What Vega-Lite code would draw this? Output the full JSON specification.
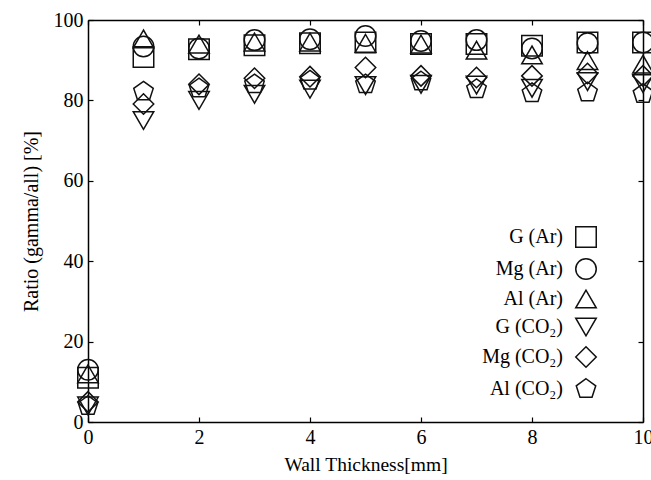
{
  "$schema": "https://vega.github.io/schema/vega-lite/v6.json",
  "width": 555,
  "height": 402,
  "autosize": {"type": "none"},
  "padding": {"left": 88, "top": 20, "right": 8, "bottom": 58},
  "background": "white",
  "config": {
    "font": "Liberation Serif",
    "view": {"stroke": null},
    "axis": {
      "domainColor": "black",
      "domainWidth": 1.5,
      "tickColor": "black",
      "tickWidth": 1.2,
      "tickSize": -5,
      "labelFont": "Liberation Serif",
      "labelFontSize": 20,
      "labelColor": "black",
      "labelFlush": false,
      "labelOverlap": false,
      "labelBound": false,
      "titleFont": "Liberation Serif",
      "titleFontSize": 19.5,
      "titleFontWeight": "normal",
      "titleColor": "black",
      "grid": false
    }
  },
  "data": {
    "values": [
      {"thickness": 0, "series": "G (Ar)", "ratio": 11},
      {"thickness": 0, "series": "Mg (Ar)", "ratio": 13},
      {"thickness": 0, "series": "Al (Ar)", "ratio": 12},
      {"thickness": 0, "series": "G (CO₂)", "ratio": 4},
      {"thickness": 0, "series": "Mg (CO₂)", "ratio": 5},
      {"thickness": 0, "series": "Al (CO₂)", "ratio": 4},
      {"thickness": 1, "series": "G (Ar)", "ratio": 90.8},
      {"thickness": 1, "series": "Mg (Ar)", "ratio": 93.4},
      {"thickness": 1, "series": "Al (Ar)", "ratio": 95.3},
      {"thickness": 1, "series": "G (CO₂)", "ratio": 75},
      {"thickness": 1, "series": "Mg (CO₂)", "ratio": 79.1},
      {"thickness": 1, "series": "Al (CO₂)", "ratio": 82.2},
      {"thickness": 2, "series": "G (Ar)", "ratio": 92.7},
      {"thickness": 2, "series": "Mg (Ar)", "ratio": 92.9},
      {"thickness": 2, "series": "Al (Ar)", "ratio": 94},
      {"thickness": 2, "series": "G (CO₂)", "ratio": 80},
      {"thickness": 2, "series": "Mg (CO₂)", "ratio": 84},
      {"thickness": 2, "series": "Al (CO₂)", "ratio": 83},
      {"thickness": 3, "series": "G (Ar)", "ratio": 93.7},
      {"thickness": 3, "series": "Mg (Ar)", "ratio": 95},
      {"thickness": 3, "series": "Al (Ar)", "ratio": 94.5},
      {"thickness": 3, "series": "G (CO₂)", "ratio": 81.5},
      {"thickness": 3, "series": "Mg (CO₂)", "ratio": 85.5},
      {"thickness": 3, "series": "Al (CO₂)", "ratio": 84},
      {"thickness": 4, "series": "G (Ar)", "ratio": 94.2},
      {"thickness": 4, "series": "Mg (Ar)", "ratio": 95.2},
      {"thickness": 4, "series": "Al (Ar)", "ratio": 94.5},
      {"thickness": 4, "series": "G (CO₂)", "ratio": 82.8},
      {"thickness": 4, "series": "Mg (CO₂)", "ratio": 85.9},
      {"thickness": 4, "series": "Al (CO₂)", "ratio": 84.9},
      {"thickness": 5, "series": "G (Ar)", "ratio": 94.4},
      {"thickness": 5, "series": "Mg (Ar)", "ratio": 96},
      {"thickness": 5, "series": "Al (Ar)", "ratio": 94.2},
      {"thickness": 5, "series": "G (CO₂)", "ratio": 83.7},
      {"thickness": 5, "series": "Mg (CO₂)", "ratio": 88.2},
      {"thickness": 5, "series": "Al (CO₂)", "ratio": 84},
      {"thickness": 6, "series": "G (Ar)", "ratio": 94},
      {"thickness": 6, "series": "Mg (Ar)", "ratio": 94.8},
      {"thickness": 6, "series": "Al (Ar)", "ratio": 94},
      {"thickness": 6, "series": "G (CO₂)", "ratio": 84},
      {"thickness": 6, "series": "Mg (CO₂)", "ratio": 86.1},
      {"thickness": 6, "series": "Al (CO₂)", "ratio": 84.7},
      {"thickness": 7, "series": "G (Ar)", "ratio": 94},
      {"thickness": 7, "series": "Mg (Ar)", "ratio": 95},
      {"thickness": 7, "series": "Al (Ar)", "ratio": 92.5},
      {"thickness": 7, "series": "G (CO₂)", "ratio": 83.8},
      {"thickness": 7, "series": "Mg (CO₂)", "ratio": 85.7},
      {"thickness": 7, "series": "Al (CO₂)", "ratio": 82.8},
      {"thickness": 8, "series": "G (Ar)", "ratio": 93.6},
      {"thickness": 8, "series": "Mg (Ar)", "ratio": 92.9},
      {"thickness": 8, "series": "Al (Ar)", "ratio": 91.3},
      {"thickness": 8, "series": "G (CO₂)", "ratio": 83},
      {"thickness": 8, "series": "Mg (CO₂)", "ratio": 86.1},
      {"thickness": 8, "series": "Al (CO₂)", "ratio": 81.8},
      {"thickness": 9, "series": "G (Ar)", "ratio": 94.4},
      {"thickness": 9, "series": "Mg (Ar)", "ratio": 94.2},
      {"thickness": 9, "series": "Al (Ar)", "ratio": 89.9},
      {"thickness": 9, "series": "G (CO₂)", "ratio": 84.7},
      {"thickness": 9, "series": "Mg (CO₂)", "ratio": 86.7},
      {"thickness": 9, "series": "Al (CO₂)", "ratio": 82},
      {"thickness": 10, "series": "G (Ar)", "ratio": 94.4},
      {"thickness": 10, "series": "Mg (Ar)", "ratio": 94.4},
      {"thickness": 10, "series": "Al (Ar)", "ratio": 89},
      {"thickness": 10, "series": "G (CO₂)", "ratio": 84.2},
      {"thickness": 10, "series": "Mg (CO₂)", "ratio": 86.1},
      {"thickness": 10, "series": "Al (CO₂)", "ratio": 81.6}
    ]
  },
  "layer": [
    {
      "mark": {"type": "point", "filled": false, "size": 420, "strokeWidth": 1.5, "opacity": 1, "color": "#111"},
      "encoding": {
        "x": {
          "field": "thickness", "type": "quantitative",
          "scale": {"domain": [0, 10], "nice": false, "zero": false},
          "axis": {"orient": "bottom", "values": [0, 2, 4, 6, 8, 10], "format": "d", "title": "Wall Thickness[mm]", "labelPadding": 10, "titlePadding": 8}
        },
        "y": {
          "field": "ratio", "type": "quantitative",
          "scale": {"domain": [0, 100], "nice": false},
          "axis": {"orient": "left", "values": [0, 20, 40, 60, 80, 100], "format": "d", "title": "Ratio (gamma/all) [%]", "titleFontSize": 20, "labelPadding": 10, "titlePadding": 12}
        },
        "shape": {
          "field": "series", "type": "nominal",
          "scale": {
            "domain": ["G (Ar)", "Mg (Ar)", "Al (Ar)", "G (CO₂)", "Mg (CO₂)", "Al (CO₂)"],
            "range": ["square", "circle", "triangle-up", "triangle-down", "diamond", "M0,-1L0.951,-0.309L0.588,0.809L-0.588,0.809L-0.951,-0.309Z"]
          },
          "legend": {
            "orient": "none",
            "legendX": 487,
            "legendY": 206,
            "title": null,
            "padding": 0,
            "labelAlign": "right",
            "labelOffset": -34,
            "labelFont": "Liberation Serif",
            "labelFontSize": 20,
            "labelColor": "black",
            "symbolSize": 420,
            "symbolStrokeWidth": 1.5,
            "symbolStrokeColor": "#111",
            "symbolFillColor": "transparent",
            "rowPadding": 4
          }
        }
      }
    },
    {
      "mark": {"type": "point", "opacity": 0},
      "encoding": {
        "x": {
          "field": "thickness", "type": "quantitative",
          "scale": {"domain": [0, 10], "nice": false, "zero": false},
          "axis": {"orient": "top", "values": [0, 2, 4, 6, 8, 10], "labels": false, "title": null}
        },
        "y": {
          "field": "ratio", "type": "quantitative",
          "scale": {"domain": [0, 100], "nice": false},
          "axis": {"orient": "right", "values": [0, 20, 40, 60, 80, 100], "labels": false, "title": null}
        }
      }
    }
  ],
  "resolve": {"axis": {"x": "independent", "y": "independent"}}
}
